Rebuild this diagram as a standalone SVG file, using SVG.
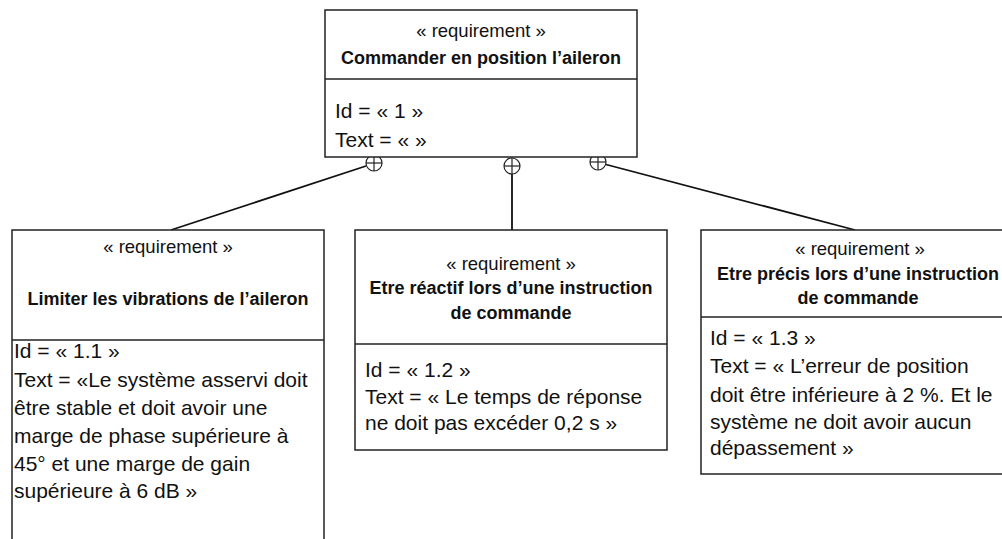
<svg xmlns="http://www.w3.org/2000/svg" width="1002" height="539" viewBox="0 0 1002 539">
<style>
.box{fill:#fff;stroke:#222;stroke-width:1.5}
.div{stroke:#222;stroke-width:1.5}
.st{font-family:"Liberation Sans",Arial,sans-serif;font-size:18.5px;fill:#111;text-anchor:middle}
.nm{font-family:"Liberation Sans",Arial,sans-serif;font-size:18px;font-weight:bold;fill:#111;text-anchor:middle}
.bd{font-family:"Liberation Sans",Arial,sans-serif;font-size:21px;fill:#111}
.con{stroke:#111;stroke-width:1.8;fill:none}
.cp{fill:#fff;stroke:#222;stroke-width:1.2}
</style>
<rect width="1002" height="539" fill="#fff"/>
<g id="connectors">
<line class="con" x1="366" y1="166" x2="171" y2="230"/>
<line class="con" x1="512" y1="174" x2="512" y2="230"/>
<line class="con" x1="606" y1="164.5" x2="855" y2="230"/>
<g class="cp">
<circle cx="374" cy="163" r="8"/>
<line x1="366" y1="163" x2="382" y2="163"/><line x1="374" y1="155" x2="374" y2="171"/>
<circle cx="512" cy="166" r="8"/>
<line x1="504" y1="166" x2="520" y2="166"/><line x1="512" y1="158" x2="512" y2="174"/>
<circle cx="598" cy="162" r="8"/>
<line x1="590" y1="162" x2="606" y2="162"/><line x1="598" y1="154" x2="598" y2="170"/>
</g>
</g>
<g id="req1">
<rect class="box" x="325" y="10" width="312" height="147"/>
<line class="div" x1="325" y1="79" x2="637" y2="79"/>
<text class="st" x="481" y="37">« requirement »</text>
<text class="nm" x="481" y="64">Commander en position l’aileron</text>
<text class="bd" x="335" y="118">Id = « 1 »</text>
<text class="bd" x="335" y="147">Text = « »</text>
</g>
<g id="req11">
<rect class="box" x="12" y="230" width="312" height="320"/>
<line class="div" x1="12" y1="340" x2="324" y2="340"/>
<text class="st" x="168" y="253">« requirement »</text>
<text class="nm" x="168" y="305">Limiter les vibrations de l’aileron</text>
<text class="bd" x="14" y="358">Id = « 1.1 »</text>
<text class="bd" x="14" y="386.5">Text = «Le système asservi doit</text>
<text class="bd" x="14" y="414.5">être stable et doit avoir une</text>
<text class="bd" x="14" y="442.5">marge de phase supérieure à</text>
<text class="bd" x="14" y="470.5">45° et une marge de gain</text>
<text class="bd" x="14" y="497.5">supérieure à 6 dB »</text>
</g>
<g id="req12">
<rect class="box" x="355" y="230" width="312" height="220"/>
<line class="div" x1="355" y1="344" x2="667" y2="344"/>
<text class="st" x="511" y="270">« requirement »</text>
<text class="nm" x="511" y="294">Etre réactif lors d’une instruction</text>
<text class="nm" x="511" y="319">de commande</text>
<text class="bd" x="365" y="377">Id = « 1.2 »</text>
<text class="bd" x="365" y="403.5">Text = « Le temps de réponse</text>
<text class="bd" x="365" y="430">ne doit pas excéder 0,2 s »</text>
</g>
<g id="req13">
<rect class="box" x="701" y="230" width="320" height="244"/>
<line class="div" x1="701" y1="317" x2="1021" y2="317"/>
<text class="st" x="860" y="255">« requirement »</text>
<text class="nm" x="858" y="280">Etre précis lors d’une instruction</text>
<text class="nm" x="858" y="303.5">de commande</text>
<text class="bd" x="710" y="345">Id = « 1.3 »</text>
<text class="bd" x="710" y="373">Text = « L’erreur de position</text>
<text class="bd" x="710" y="401.5">doit être inférieure à 2 %. Et le</text>
<text class="bd" x="710" y="428.5">système ne doit avoir aucun</text>
<text class="bd" x="710" y="455">dépassement »</text>
</g>
</svg>
